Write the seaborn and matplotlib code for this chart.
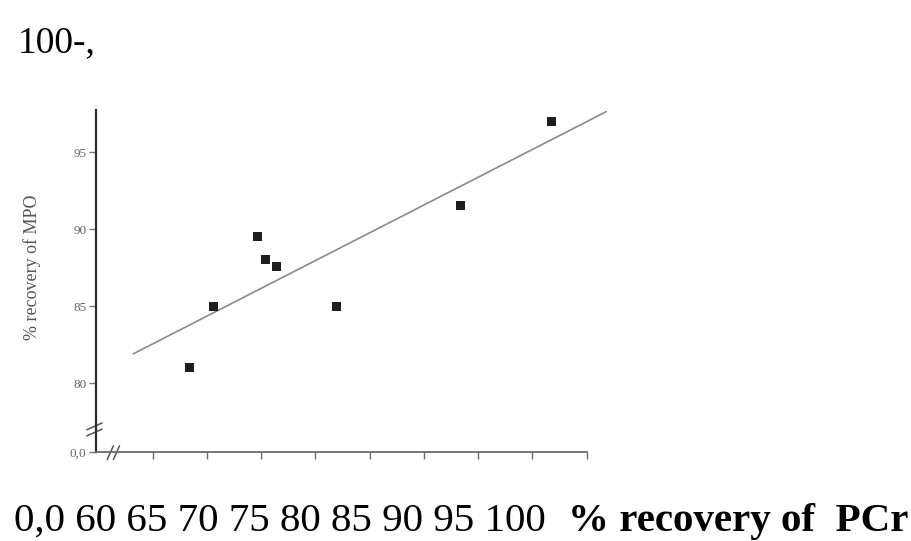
import matplotlib
matplotlib.use("Agg")

import numpy as np
import pandas as pd
import matplotlib.pyplot as plt
import seaborn as sns

# ==============================
# DATA
# ==============================
pcr_recovery = [63.4, 65.6, 69.7, 70.35, 71.4, 76.9, 88.4, 96.8]
mpo_recovery = [81.0, 85.0, 89.5, 88.0, 87.55, 85.0, 91.5, 97.0]

x_ticks = [60, 65, 70, 75, 80, 85, 90, 95, 100]
y_ticks = [80, 85, 90, 95]
y_tick_labels = ["80", "85", "90", "95"]
origin_label = "0,0"

top_text = "100-,"
bottom_numbers = "0,0 60 65 70 75 80 85 90 95 100"
bottom_title = "% recovery of  PCr"
y_title = "% recovery of MPO"

df = pd.DataFrame({"pcr": pcr_recovery, "mpo": mpo_recovery})

# ==============================
# STYLE
# ==============================
sns.set_theme(style="white")
plt.rcParams["font.family"] = ["Liberation Serif", "DejaVu Serif"]

XLIM = (54.77, 101.87)
YLIM = (75.52, 97.73)
FIT_RANGE = (58.2, 101.8)

fig = plt.figure(figsize=(9.11, 5.41), dpi=100)
ax = fig.add_axes([96 / 911, 89 / 541, 511 / 911, 342 / 541])

# regression line over the span drawn in the original
ax.set_xlim(*FIT_RANGE)
sns.regplot(data=df, x="pcr", y="mpo", ax=ax, scatter=False, ci=None,
            truncate=False, line_kws={"color": "#8a8a8a", "lw": 1.2})

sns.scatterplot(data=df, x="pcr", y="mpo", ax=ax, marker="s", s=42,
                color="#1e1e1e", edgecolor="none", zorder=3)

ax.set_xlim(*XLIM)
ax.set_ylim(*YLIM)

# axes styling
for side in ["top", "right"]:
    ax.spines[side].set_visible(False)
ax.spines["left"].set_color("#2a2a2a")
ax.spines["left"].set_linewidth(1.6)
ax.spines["bottom"].set_color("#6a6a6a")
ax.spines["bottom"].set_linewidth(1.3)
ax.spines["bottom"].set_bounds(XLIM[0], 100)

ax.set_xticks(x_ticks)
ax.set_xticklabels([])
ax.set_yticks([YLIM[0]] + y_ticks)
ax.set_yticklabels([origin_label] + y_tick_labels)
ax.tick_params(axis="x", direction="out", length=5, width=1, color="#6a6a6a",
               bottom=True)
ax.tick_params(axis="y", direction="out", length=5, width=1, color="#777777",
               left=True, labelsize=9.5, labelcolor="#666666", pad=2)

ax.set_xlabel("")
ax.set_ylabel(y_title, fontsize=13, color="#555555")
ax.yaxis.set_label_coords(-0.108, 0.54)

# axis break marks
brk = dict(transform=ax.transAxes, color="#555555", lw=1.1, clip_on=False)
for dy in (0.0, 0.018):
    ax.plot([-0.018, 0.012], [0.047 + dy, 0.067 + dy], **brk)
for dx in (0.0, 0.012):
    ax.plot([0.022 + dx, 0.034 + dx], [-0.022, 0.018], **brk)

# scanned-page text around the plot
fig.text(18 / 911, 1 - 52 / 541, top_text, fontsize=27, color="black",
         va="baseline", ha="left")
fig.text(14 / 911, 1 - 531 / 541, bottom_numbers, fontsize=29.5,
         color="black", va="baseline", ha="left")
fig.text(908 / 911, 1 - 531 / 541, bottom_title, fontsize=29.5,
         fontweight="bold", color="black", va="baseline", ha="right")

fig.savefig("out.png", dpi=100)
plt.close(fig)
